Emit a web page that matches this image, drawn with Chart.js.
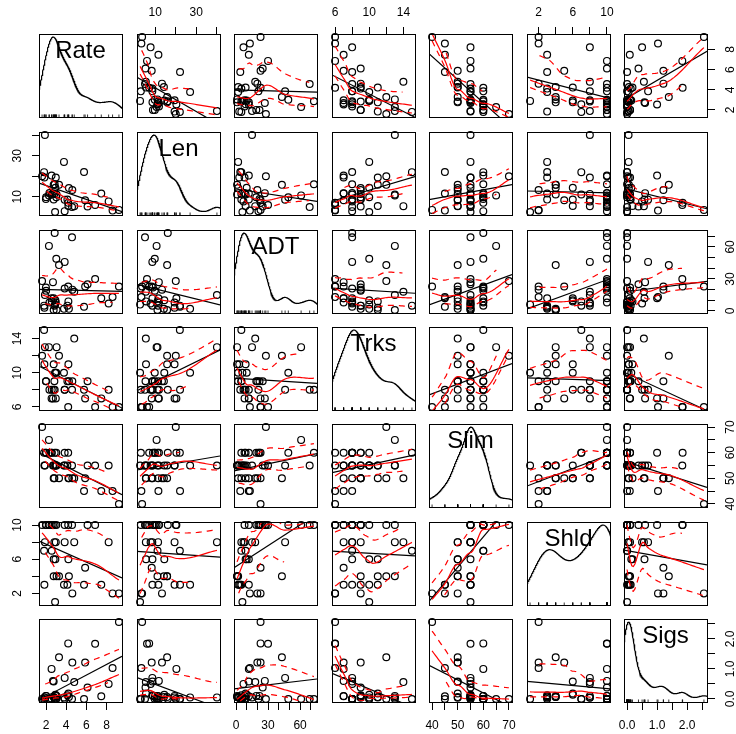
<!DOCTYPE html>
<html>
<head>
<meta charset="utf-8">
<script src="https://cdn.jsdelivr.net/npm/chart.js@4.4.1/dist/chart.umd.min.js"></script>
<style>
html,body{margin:0;padding:0;background:#fff;}
#wrap{position:relative;width:736px;height:734px;overflow:hidden;background:#fff;}
#wrap canvas{position:absolute;}
</style>
</head>
<body>
<div id="wrap"></div>
<script>
// ---- data (39 highway segments) ----
const varNames = ["Rate","Len","ADT","Trks","Slim","Shld","Sigs"];
const rate = [4.58,2.86,3.02,2.29,1.61,6.87,3.85,6.12,3.29,5.88,4.20,4.61,4.80,3.85,2.69,1.99,2.01,4.22,2.76,2.55,1.89,2.34,2.83,1.81,9.23,8.60,8.21,2.93,7.48,2.57,5.77,2.90,2.97,1.84,3.78,2.76,4.27,3.05,4.12];
const len  = [4.99,16.11,9.75,10.65,20.01,5.97,8.57,5.24,15.79,8.26,7.03,13.28,5.40,2.96,11.75,8.86,9.78,5.49,8.63,20.31,40.09,11.81,11.39,22.00,3.58,3.23,7.73,14.41,11.54,11.10,22.09,2.59,19.42,19.42,27.00,15.79,14.22,11.08,8.61];
const adt  = [69,73,49,61,28,30,46,25,43,23,23,20,18,21,27,22,19,9,12,12,15,8,5,5,23,13,7,10,12,9,4,6,8,3,2,1,2,1,5];
const trks = [8,8,10,13,12,6,8,9,12,7,6,9,14,8,7,9,9,11,8,7,13,8,9,15,6,6,8,10,7,8,8,10,7,11,10,11,9,13,9];
const slim = [55,60,60,65,70,55,55,55,50,50,60,50,50,60,55,60,60,50,50,60,55,60,50,60,40,45,55,55,45,60,45,55,55,55,55,55,50,55,55];
const shld = [10,10,10,10,10,10,8,10,4,5,10,2,8,10,10,10,10,6,6,10,8,10,8,7,2,2,8,6,3,7,3,1,8,3,3,4,4,4,3];
const sigs = [0,0,0,0,0,1.84,0.70,0.38,1.39,1.21,1.85,1.21,0.56,0,0.60,0.10,0.10,0.18,0.58,1.00,0.05,0,0.04,0,2.56,1.03,0.50,0.14,0.09,0,0,0,0.10,0.05,0.05,0.06,0.06,0.10,0.12];

// ---- tick values and tick labels ----
const rateTicks = [2,4,6,8];                const rateLabels = ["2","4","6","8"];
const lenTicks  = [10,20,30,40];            const lenLabels  = ["10","","30",""];
const adtTicks  = [0,10,20,30,40,50,60,70]; const adtLabels  = ["0","","","30","","","60",""];
const trksTicks = [6,8,10,12,14];           const trksLabels = ["6","","10","","14"];
const slimTicks = [40,45,50,55,60,65,70];   const slimLabels = ["40","","50","","60","","70"];
const shldTicks = [2,4,6,8,10];             const shldLabels = ["2","","6","","10"];
const sigsTicks = [0,0.5,1,1.5,2,2.5];      const sigsLabels = ["0.0","","1.0","","2.0",""];

const allVars   = [rate,len,adt,trks,slim,shld,sigs];
const allTicks  = [rateTicks,lenTicks,adtTicks,trksTicks,slimTicks,shldTicks,sigsTicks];
const allLabels = [rateLabels,lenLabels,adtLabels,trksLabels,slimLabels,shldLabels,sigsLabels];

// ---- layout ----
const colLeft = [39,137,234,332,429,527,624];
const rowTop  = [34,132,230,327,424,522,619];
const SZ = 83, M = 40;
const FONT = '"Liberation Sans", Arial, Helvetica, sans-serif';
const LW = 1.2;

// ---- statistics helpers ----
function mean(a){return a.reduce((s,v)=>s+v,0)/a.length;}
function sdev(a){const m=mean(a);return Math.sqrt(a.reduce((s,v)=>s+(v-m)*(v-m),0)/(a.length-1));}
function median(a){const s=a.slice().sort((p,q)=>p-q);const n=s.length;return n%2?s[(n-1)/2]:(s[n/2-1]+s[n/2])/2;}
function quant(a,p){const s=a.slice().sort((u,v)=>u-v);const h=(s.length-1)*p;const lo=Math.floor(h);const hi=Math.min(lo+1,s.length-1);return s[lo]+(h-lo)*(s[hi]-s[lo]);}
function bwNrd0(x){
  const s=sdev(x), iqr=quant(x,0.75)-quant(x,0.25);
  let lo=Math.min(s,iqr/1.34);
  if(!(lo>0)) lo = s>0?s:1;
  return 0.9*lo*Math.pow(x.length,-0.2);
}
const dn = u => Math.exp(-0.5*u*u)/Math.sqrt(2*Math.PI);
function kernelDensity(x){
  const n=x.length, bw=bwNrd0(x);
  const from=Math.min(...x)-3*bw, to=Math.max(...x)+3*bw;
  const N=512, xs=[], ps=[];
  for(let k=0;k<N;k++){
    const x0=from+(to-from)*k/(N-1);
    let p=0; for(let j=0;j<n;j++) p+=dn((x0-x[j])/bw);
    xs.push(x0); ps.push(p/(n*bw));
  }
  const pmin=Math.min(...ps), pmax=Math.max(...ps);
  const xmin=Math.min(...x), xr=Math.max(...x)-xmin;
  return xs.map((v,k)=>({x:v,y:xmin+ps[k]*xr/(pmax-pmin)}));
}
// local weighted fit at x0 -> value and slope
function locFit(xs,ys,wts,x0,span,degree){
  const n=xs.length, q=Math.floor(n*span+1e-5);
  const d=xs.map(v=>Math.abs(v-x0));
  const sd=d.slice().sort((a,b)=>a-b);
  let h=sd[Math.max(0,Math.min(q,n)-1)];
  if(!(h>0)) h=1e-12;
  let sw=0,sx=0,sy=0; const w=new Array(n);
  for(let k=0;k<n;k++){const u=d[k]/h;const t=u<1?Math.pow(1-u*u*u,3):0;w[k]=t*wts[k];sw+=w[k];sx+=w[k]*xs[k];sy+=w[k]*ys[k];}
  if(!(sw>0)) return {v:NaN,s:0};
  const xb=sx/sw, yb=sy/sw;
  if(degree===0) return {v:yb,s:0};
  let sxx=0,sxy=0;
  for(let k=0;k<n;k++){sxx+=w[k]*(xs[k]-xb)*(xs[k]-xb);sxy+=w[k]*(xs[k]-xb)*(ys[k]-yb);}
  if(sxx<=1e-10*sw*Math.max(1,xb*xb)) return {v:yb,s:0};
  const b=sxy/sxx;
  return {v:yb+b*(x0-xb),s:b};
}
// kd-tree vertices (1-D), split at data values like loess surface="interpolate"
function kdVertices(xs,span){
  const s=xs.slice().sort((a,b)=>a-b), n=s.length;
  const X=i=>s[i-1];
  const lo0=s[0], hi0=s[n-1];
  const mu=0.005*Math.max(hi0-lo0,1e-10*Math.max(Math.abs(lo0),Math.abs(hi0))+1e-30);
  const b0=lo0-mu, b1=hi0+mu;
  const fc=Math.floor(n*span*0.2);
  const verts=[b0,b1];
  const queue=[[1,n,b0,b1]];
  let guard=0;
  while(queue.length && guard++<1000){
    const [l,u,c0,c1]=queue.shift();
    if(u-l+1<=fc) continue;
    let m=Math.floor((l+u)/2), off=0;
    while(true){
      if(m+off>=u || m+off<l) break;
      if(X(m+off)===X(m+off+1)){ off=-off; if(off>=0) off++; }
      else { m=m+off; break; }
    }
    const xi=X(m);
    if(c0===xi || c1===xi) continue;
    verts.push(xi);
    queue.push([l,m,c0,xi],[m+1,u,xi,c1]);
  }
  return Array.from(new Set(verts)).sort((a,b)=>a-b);
}
function surface(xs,ys,wts,span,degree,verts){
  const vf=verts.map(v=>locFit(xs,ys,wts,v,span,degree));
  return function(x){
    if(x<verts[0]-1e-12 || x>verts[verts.length-1]+1e-12) return NaN;
    let k=0; while(k<verts.length-2 && x>verts[k+1]) k++;
    const v0=verts[k], v1=verts[k+1], h=v1-v0;
    const f0=vf[k].v, f1=vf[k+1].v, d0=vf[k].s, d1=vf[k+1].s;
    const t=(x-v0)/h, t2=t*t, t3=t2*t;
    return (2*t3-3*t2+1)*f0+(t3-2*t2+t)*h*d0+(-2*t3+3*t2)*f1+(t3-t2)*h*d1;
  };
}
function loess(xs,ys,span,degree,iters){
  const n=xs.length; let rw=new Array(n).fill(1); let fitted, surf;
  const verts=kdVertices(xs,span);
  for(let it=0;it<iters;it++){
    surf=surface(xs,ys,rw,span,degree,verts);
    fitted=xs.map(surf);
    if(it===iters-1) break;
    const res=ys.map((y,k)=>y-fitted[k]);
    const cmad=6*median(res.map(Math.abs));
    rw=res.map(r=>{ if(!(cmad>1e-12)) return 1; const u=Math.abs(r)/cmad; if(u<=0.001) return 1; return u<0.999?Math.pow(1-u*u,2):0; });
  }
  return {fitted, predict:surf};
}
function smoothLines(xs,ys){
  const span=2/3, iters=4, nev=50;
  const fit=loess(xs,ys,span,1,iters);
  const lo=Math.min(...xs), hi=Math.max(...xs);
  const xe=[]; for(let k=0;k<nev;k++) xe.push(lo+(hi-lo)*k/(nev-1));
  const ye=xe.map(fit.predict);
  const res=ys.map((y,k)=>y-fit.fitted[k]);
  const P=[],N=[];
  res.forEach((r,k)=>{ if(r>0) P.push(k); else N.push(k); });
  const mk=idx=> idx.length<3 ? (()=>NaN) : loess(idx.map(k=>xs[k]), idx.map(k=>res[k]*res[k]), span, 0, iters).predict;
  const pf=mk(P), nf=mk(N);
  const up=xe.map((v,k)=>{const p=pf(v);return {x:v,y:(isFinite(p)&&isFinite(ye[k]))?ye[k]+Math.sqrt(Math.max(p,0)):null};});
  const dw=xe.map((v,k)=>{const p=nf(v);return {x:v,y:(isFinite(p)&&isFinite(ye[k]))?ye[k]-Math.sqrt(Math.max(p,0)):null};});
  return {smooth:xe.map((v,k)=>({x:v,y:isFinite(ye[k])?ye[k]:null})), up, dw};
}
function ols(xs,ys){
  const mx=mean(xs), my=mean(ys);
  let sxx=0,sxy=0; xs.forEach((x,k)=>{sxx+=(x-mx)*(x-mx);sxy+=(x-mx)*(ys[k]-my);});
  const b=sxy/sxx; return {a:my-b*mx,b};
}
const lims = allVars.map(v=>{const mn=Math.min(...v),mx=Math.max(...v),r=mx-mn;return [mn-0.04*r,mx+0.04*r];});

// ---- panel frame, axes, diagonal labels ----
const panelPlugin = {
  id:'panelFrame',
  afterDraw(chart){
    const o=chart.options.plugins.panelFrame; const i=o.row, j=o.col;
    const ctx=chart.ctx, a=chart.chartArea;
    ctx.save();
    ctx.strokeStyle='#000'; ctx.fillStyle='#000'; ctx.lineWidth=1;
    ctx.strokeRect(a.left+0.5,a.top+0.5,a.right-a.left,a.bottom-a.top);
    ctx.font='12px '+FONT;
    const xs=chart.scales.x, ys=chart.scales.y;
    const crisp=p=>Math.round(p-0.5)+0.5;
    if((i===6 && j%2===0) || (i===0 && j%2===1)){
      const bottom=(i===6);
      allTicks[j].forEach((t,k)=>{
        const px=xs.getPixelForValue(t);
        ctx.beginPath();
        if(bottom){ctx.moveTo(crisp(px),a.bottom+0.5);ctx.lineTo(crisp(px),a.bottom+8);}
        else {ctx.moveTo(crisp(px),a.top+0.5);ctx.lineTo(crisp(px),a.top-7);}
        ctx.stroke();
        const lab=allLabels[j][k];
        if(lab){ctx.textAlign='center';ctx.textBaseline='middle';ctx.fillText(lab,px,bottom?a.bottom+23.5:a.top-21);}
      });
    }
    if((j===0 && i%2===1) || (j===6 && i%2===0)){
      const left=(j===0);
      allTicks[i].forEach((t,k)=>{
        const py=ys.getPixelForValue(t);
        ctx.beginPath();
        if(left){ctx.moveTo(a.left+0.5,crisp(py));ctx.lineTo(a.left-7,crisp(py));}
        else {ctx.moveTo(a.right+0.5,crisp(py));ctx.lineTo(a.right+8,crisp(py));}
        ctx.stroke();
        const lab=allLabels[i][k];
        if(lab){
          ctx.save();
          ctx.translate(left?a.left-21:a.right+24,py);
          ctx.rotate(-Math.PI/2);
          ctx.textAlign='center';ctx.textBaseline='middle';
          ctx.fillText(lab,0,0);
          ctx.restore();
        }
      });
    }
    if(i===j){
      ctx.font='24px '+FONT;
      ctx.textAlign='center';ctx.textBaseline='alphabetic';
      ctx.fillText(varNames[i],(a.left+a.right)/2,a.top+24);
    }
    ctx.restore();
  }
};

const wrap=document.getElementById('wrap');
function makePanel(i,j){
  const cv=document.createElement('canvas');
  const W=SZ+2*M;
  cv.width=W; cv.height=W;
  cv.style.width=W+'px'; cv.style.height=W+'px';
  cv.style.left=(colLeft[j]-M)+'px'; cv.style.top=(rowTop[i]-M)+'px';
  wrap.appendChild(cv);
  const xv=allVars[j], yv=allVars[i];
  const datasets=[];
  if(i===j){
    datasets.push({data:kernelDensity(xv),showLine:true,borderColor:'#000',borderWidth:LW,pointRadius:0,fill:false,clip:0,order:1});
    const ylo=lims[i][0], yr=lims[i][1]-lims[i][0];
    const rug=[]; xv.forEach(v=>{rug.push({x:v,y:ylo},{x:v,y:ylo+0.03*yr},{x:v,y:null});});
    datasets.push({data:rug,showLine:true,spanGaps:false,borderColor:'#000',borderWidth:0.8,pointRadius:0,fill:false,clip:0,order:2});
  } else {
    const pts=xv.map((x,k)=>({x,y:yv[k]}));
    datasets.push({data:pts,showLine:false,pointRadius:3.4,pointBorderWidth:LW,pointBorderColor:'#000',pointBackgroundColor:'rgba(0,0,0,0)',order:5,clip:5});
    const f=ols(xv,yv);
    datasets.push({data:[{x:lims[j][0],y:f.a+f.b*lims[j][0]},{x:lims[j][1],y:f.a+f.b*lims[j][1]}],showLine:true,borderColor:'#000',borderWidth:LW,pointRadius:0,fill:false,clip:0,order:4});
    const sm=smoothLines(xv,yv);
    datasets.push({data:sm.up,showLine:true,spanGaps:false,borderColor:'#ff0000',borderWidth:LW,borderDash:[6,5],pointRadius:0,fill:false,clip:0,order:3});
    datasets.push({data:sm.dw,showLine:true,spanGaps:false,borderColor:'#ff0000',borderWidth:LW,borderDash:[6,5],pointRadius:0,fill:false,clip:0,order:2});
    datasets.push({data:sm.smooth,showLine:true,spanGaps:false,borderColor:'#ff0000',borderWidth:LW,pointRadius:0,fill:false,clip:0,order:1});
  }
  new Chart(cv,{
    type:'scatter',
    data:{datasets},
    options:{
      responsive:false, animation:false, events:[], devicePixelRatio:1,
      layout:{padding:M},
      elements:{line:{tension:0}},
      plugins:{legend:{display:false},tooltip:{enabled:false},panelFrame:{row:i,col:j}},
      scales:{
        x:{type:'linear',min:lims[j][0],max:lims[j][1],display:false},
        y:{type:'linear',min:lims[i][0],max:lims[i][1],display:false}
      }
    },
    plugins:[panelPlugin]
  });
}
for(let i=0;i<7;i++) for(let j=0;j<7;j++) makePanel(i,j);
</script>
</body>
</html>
